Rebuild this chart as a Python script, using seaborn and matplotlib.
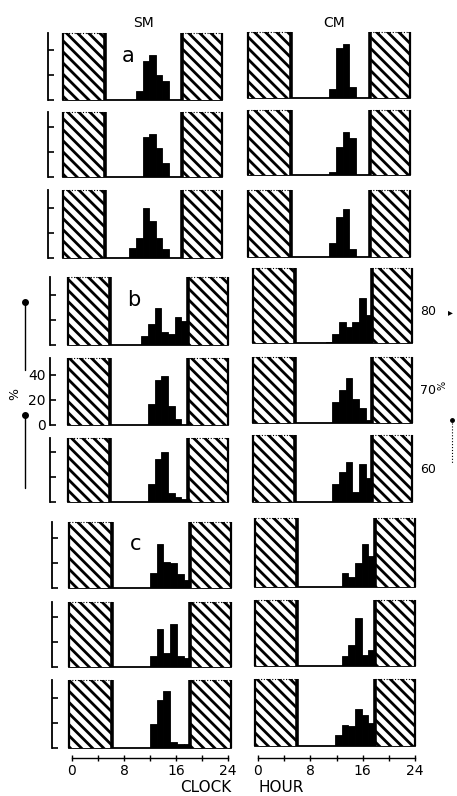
import matplotlib
matplotlib.use("Agg")
import matplotlib.pyplot as plt
import numpy as np
import pandas as pd
import seaborn as sns
from matplotlib.patches import Rectangle
from matplotlib.lines import Line2D

sns.set_theme(style="white")
plt.rcParams["font.family"] = ["DejaVu Sans"]
plt.rcParams["hatch.linewidth"] = 2.0

# ---------------- data ----------------
column_titles = ["SM", "CM"]
group_letters = ["a", "b", "c"]
x_tick_values = [0, 8, 16, 24]
x_tick_labels = ["0", "8", "16", "24"]
y_tick_values = [0, 20, 40]
y_tick_labels = ["0", "20", "40"]
dark_periods = [(0, 6.3), (18, 24)]
side_labels = ["80", "70", "60"]
axis_words = ["CLOCK", "HOUR"]

# first hour of the first hourly bin, then activity (%) for each hourly bin
sm_a1_start, sm_a1 = 11, [7, 31, 36, 20, 15]
sm_a2_start, sm_a2 = 12, [32, 34, 23, 11]
sm_a3_start, sm_a3 = 10, [8, 16, 40, 29, 16, 7]
cm_a1_start, cm_a1 = 12, [7, 40, 43, 9]
cm_a2_start, cm_a2 = 12, [2, 22, 34, 29]
cm_a3_start, cm_a3 = 12, [11, 32, 38, 6]

sm_b1_start, sm_b1 = 11, [7, 17, 29, 10, 9, 22, 19]
sm_b2_start, sm_b2 = 12, [17, 36, 39, 15, 5]
sm_b3_start, sm_b3 = 12, [14, 34, 40, 7, 4, 2]
cm_b1_start, cm_b1 = 11, [1, 7, 17, 13, 17, 36, 22]
cm_b2_start, cm_b2 = 12, [17, 26, 36, 19, 12, 2]
cm_b3_start, cm_b3 = 12, [14, 24, 32, 8, 30, 19]

sm_c1_start, sm_c1 = 12, [12, 35, 21, 20, 11, 6]
sm_c2_start, sm_c2 = 12, [9, 30, 11, 34, 9, 7]
sm_c3_start, sm_c3 = 12, [19, 38, 45, 5, 3, 3]
cm_c1_start, cm_c1 = 13, [11, 8, 19, 34, 25]
cm_c2_start, cm_c2 = 13, [8, 17, 38, 9, 13]
cm_c3_start, cm_c3 = 12, [9, 17, 16, 29, 25, 18]

# ---------------- layout (pixels) ----------------
W, H = 457, 796
PX_PER_UNIT = 1.26
fig = plt.figure(figsize=(W / 100, H / 100), dpi=100)
fig.patch.set_facecolor("white")


def px_axes(x0, x1, y0, y1):
    return fig.add_axes([x0 / W, 1 - y1 / H, (x1 - x0) / W, (y1 - y0) / H])


def fx(x):
    return x / W


def fy(y):
    return 1 - y / H


# (series, start, x0, x1, top, bottom, column, spine offset, letter, show ylabels)
panels = [
    (sm_a1, sm_a1_start, 63, 222, 33, 100, 0, 11, "a", False),
    (sm_a2, sm_a2_start, 63, 222, 112, 177, 0, 11, None, False),
    (sm_a3, sm_a3_start, 63, 222, 190, 258, 0, 11, None, False),
    (cm_a1, cm_a1_start, 248, 410, 32, 98, 1, 0, None, False),
    (cm_a2, cm_a2_start, 248, 410, 110, 175, 1, 0, None, False),
    (cm_a3, cm_a3_start, 248, 410, 190, 257, 1, 0, None, False),
    (sm_b1, sm_b1_start, 68, 228, 277, 345, 0, 13, "b", False),
    (sm_b2, sm_b2_start, 68, 228, 358, 425, 0, 13, None, True),
    (sm_b3, sm_b3_start, 68, 228, 438, 502, 0, 13, None, False),
    (cm_b1, cm_b1_start, 253, 412, 268, 343, 1, 0, None, False),
    (cm_b2, cm_b2_start, 253, 412, 357, 423, 1, 0, None, False),
    (cm_b3, cm_b3_start, 253, 412, 435, 502, 1, 0, None, False),
    (sm_c1, sm_c1_start, 69, 231, 522, 588, 0, 12, "c", False),
    (sm_c2, sm_c2_start, 69, 231, 602, 667, 0, 12, None, False),
    (sm_c3, sm_c3_start, 69, 231, 680, 748, 0, 12, None, False),
    (cm_c1, cm_c1_start, 255, 415, 518, 587, 1, 0, None, False),
    (cm_c2, cm_c2_start, 255, 415, 600, 666, 1, 0, None, False),
    (cm_c3, cm_c3_start, 255, 415, 679, 746, 1, 0, None, False),
]

for vals, start, x0, x1, top, bottom, col, off, letter, ylab in panels:
    ax = px_axes(x0, x1, top, bottom)
    ax.set_facecolor("none")
    ymax = (bottom - top) / PX_PER_UNIT
    df = pd.DataFrame({
        "hour": [start + i + 0.5 for i in range(len(vals))],
        "activity": vals,
    })
    sns.histplot(data=df, x="hour", weights="activity", binwidth=1,
                 binrange=(0, 24), color="black", alpha=1,
                 edgecolor="black", linewidth=0.6, ax=ax, zorder=1)
    ax.set_xlim(0, 24)
    ax.set_ylim(0, ymax)
    ax.set_xlabel("")
    ax.set_ylabel("")
    ax.set_xticks([])
    # dark (night) periods: hatched boxes
    for (d0, d1) in dark_periods:
        ax.add_patch(Rectangle((d0, 0), d1 - d0, ymax, facecolor="white",
                               edgecolor="black", hatch="\\\\\\",
                               linewidth=0, zorder=3))
        ax.plot([d0, d1], [ymax, ymax], color="black", lw=0.8,
                ls=(0, (1, 1.5)), zorder=4, clip_on=False)
    for xv, lw in [(0, 1.6), (dark_periods[0][1], 2.6),
                   (dark_periods[1][0], 2.6), (24, 1.6)]:
        ax.plot([xv, xv], [0, ymax], color="black", lw=lw, zorder=5,
                clip_on=False, solid_capstyle="butt")
    for s in ["top", "right"]:
        ax.spines[s].set_visible(False)
    ax.spines["bottom"].set_color("black")
    ax.spines["bottom"].set_linewidth(1.3)
    if col == 0:
        ax.spines["left"].set_visible(True)
        ax.spines["left"].set_color("black")
        ax.spines["left"].set_linewidth(1.3)
        ax.spines["left"].set_position(("outward", off))
        ax.set_yticks(y_tick_values)
        ax.tick_params(axis="y", direction="in", length=4, width=1.2,
                       left=True, labelsize=10, pad=3, colors="black")
        if ylab:
            ax.set_yticklabels(y_tick_labels)
        else:
            ax.set_yticklabels([])
    else:
        ax.spines["left"].set_visible(False)
        ax.set_yticks([])
    if letter:
        ax.text(9.9, ymax * 0.66, letter, fontsize=15, ha="center",
                va="center", color="black")

# column titles
fig.text(fx(143), fy(23), column_titles[0], fontsize=10, ha="center",
         va="center", color="black")
fig.text(fx(334), fy(23), column_titles[1], fontsize=10, ha="center",
         va="center", color="black")

# bottom clock-hour axes
for (bx0, bx1) in [(72, 228), (258, 415)]:
    bax = px_axes(bx0, bx1, 757, 758)
    bax.set_facecolor("none")
    bax.set_xlim(0, 24)
    bax.set_yticks([])
    for s in ["top", "right", "left"]:
        bax.spines[s].set_visible(False)
    bax.spines["bottom"].set_color("black")
    bax.spines["bottom"].set_linewidth(1.0)
    bax.set_xticks(x_tick_values)
    bax.set_xticklabels(x_tick_labels)
    bax.set_xticks([4, 12, 20], minor=True)
    bax.tick_params(axis="x", which="both", direction="inout", length=5,
                    width=1.0, bottom=True, labelsize=10, pad=2,
                    colors="black")

fig.text(fx(180), fy(788), axis_words[0], fontsize=11, ha="left",
         va="center", color="black")
fig.text(fx(258), fy(788), axis_words[1], fontsize=11, ha="left",
         va="center", color="black")

# left-hand scale decoration
fig.add_artist(Line2D([fx(25), fx(25)], [fy(302), fy(370)], color="black",
                      lw=1.0))
fig.add_artist(Line2D([fx(25)], [fy(302)], marker="o", markersize=4,
                      color="black"))
fig.add_artist(Line2D([fx(25), fx(25)], [fy(415), fy(488)], color="black",
                      lw=1.0))
fig.add_artist(Line2D([fx(25)], [fy(415)], marker="o", markersize=4,
                      color="black"))
fig.text(fx(15), fy(394), "%", fontsize=9, rotation=90, ha="center",
         va="center", color="black")

# right-hand labels
fig.text(fx(428), fy(312), side_labels[0], fontsize=9, ha="center",
         va="center", color="black")
fig.text(fx(450), fy(312), "\u25b8", fontsize=7, ha="center", va="center",
         color="black")
fig.text(fx(428), fy(391), side_labels[1], fontsize=9, ha="center",
         va="center", color="black")
fig.text(fx(442), fy(385), "%", fontsize=7, rotation=90, ha="center",
         va="center", color="black")
fig.text(fx(428), fy(470), side_labels[2], fontsize=9, ha="center",
         va="center", color="black")
fig.add_artist(Line2D([fx(452), fx(452)], [fy(420), fy(463)], color="black",
                      lw=0.8, ls=":"))
fig.add_artist(Line2D([fx(452)], [fy(420)], marker="o", markersize=2.5,
                      color="black"))

fig.savefig("out.png", dpi=100, facecolor="white")
